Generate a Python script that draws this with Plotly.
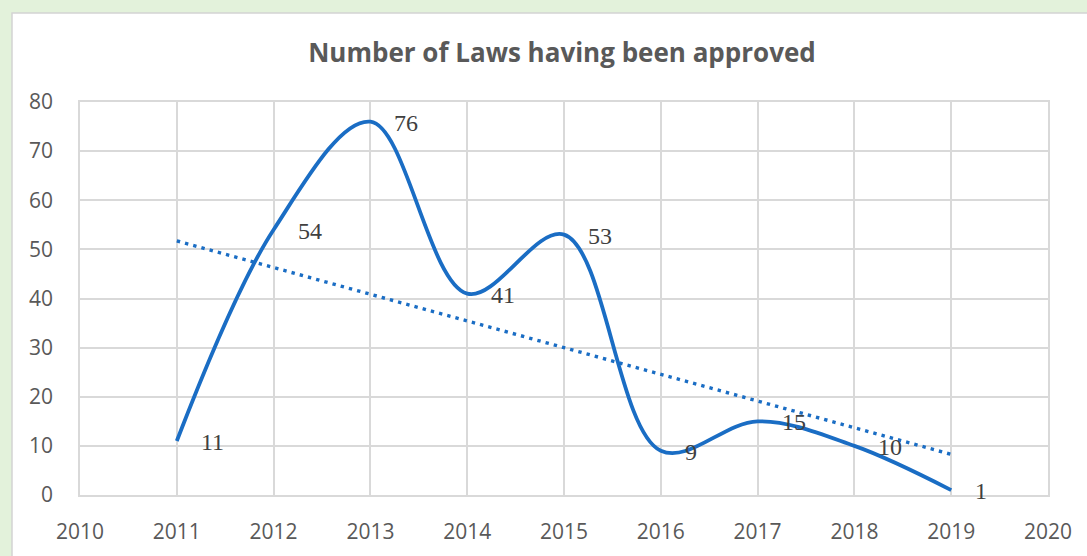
import numpy as np
import plotly.graph_objects as go

years = [2011, 2012, 2013, 2014, 2015, 2016, 2017, 2018, 2019]
laws = [11, 54, 76, 41, 53, 9, 15, 10, 1]
x_ticks = list(range(2010, 2021))
y_ticks = list(range(0, 81, 10))
title_text = "Number of Laws having been approved"

W, H = 1087, 556
L, R, T, B = 80, 1048, 102, 495

# linear trendline (least squares, as Excel does)
slope, intercept = np.polyfit(years, laws, 1)
trend_x = [years[0], years[-1]]
trend_y = [slope * x + intercept for x in trend_x]

blue = "#1a6dc4"
grid = "#d9d9d9"
tick_font = dict(family="Open Sans, Noto Sans, sans-serif", size=21, color="#595959")

fig = go.Figure()
fig.add_trace(go.Scatter(
    x=years, y=laws, mode="lines",
    line=dict(color=blue, width=3.8, shape="spline", smoothing=1.0),
    hoverinfo="x+y", showlegend=False,
))
fig.add_trace(go.Scatter(
    x=trend_x, y=trend_y, mode="lines",
    line=dict(color=blue, width=3.4, dash="3.4px,5.1px"),
    hoverinfo="skip", showlegend=False,
))

for x, y in zip(years, laws):
    fig.add_annotation(
        x=x, y=y, xref="x", yref="y", text=str(y), showarrow=False,
        xanchor="left", yanchor="middle", xshift=22, yshift=-1,
        font=dict(family="Liberation Serif, Times New Roman, serif", size=24, color="#404040"),
    )

pw, ph = R - L, B - T
def px(p):
    return (p - L) / pw
def py(q):
    return (B - q) / ph

fig.add_shape(
    type="rect", xref="paper", yref="paper",
    x0=px(12), x1=px(1100), y0=py(600), y1=py(13),
    fillcolor="white", line=dict(color="#d4d4d4", width=1.5), layer="below",
)

fig.update_layout(
    width=W, height=H, autosize=False,
    margin=dict(l=L, r=W - R, t=T, b=H - B, pad=0, autoexpand=False),
    paper_bgcolor="#e3f2db",
    plot_bgcolor="white",
    title=dict(
        text="<b>" + title_text + "</b>",
        x=px(562), xref="paper", xanchor="center",
        y=1 - 53 / H, yref="container", yanchor="middle", automargin=False,
        font=dict(family="Open Sans, Noto Sans, sans-serif", size=26, color="#595959"),
    ),
    xaxis=dict(
        range=[x_ticks[0], x_ticks[-1]], tickvals=x_ticks, ticktext=[str(t) for t in x_ticks],
        showgrid=True, gridcolor=grid, gridwidth=1.5, zeroline=False,
        showline=True, linecolor=grid, linewidth=1.5, mirror=True,
        ticks="outside", ticklen=17, tickcolor="rgba(0,0,0,0)",
        tickfont=tick_font, fixedrange=True, automargin=False,
    ),
    yaxis=dict(
        range=[y_ticks[0], y_ticks[-1]], tickvals=y_ticks,
        showgrid=True, gridcolor=grid, gridwidth=1.5, zeroline=False,
        showline=True, linecolor=grid, linewidth=1.5, mirror=True,
        ticks="outside", ticklen=21, tickcolor="rgba(0,0,0,0)",
        tickfont=tick_font, fixedrange=True, automargin=False,
    ),
)

fig.write_html(
    "out.html",
    config={"displayModeBar": False},
    post_script="document.body.style.margin='0';document.body.style.padding='0';",
)
